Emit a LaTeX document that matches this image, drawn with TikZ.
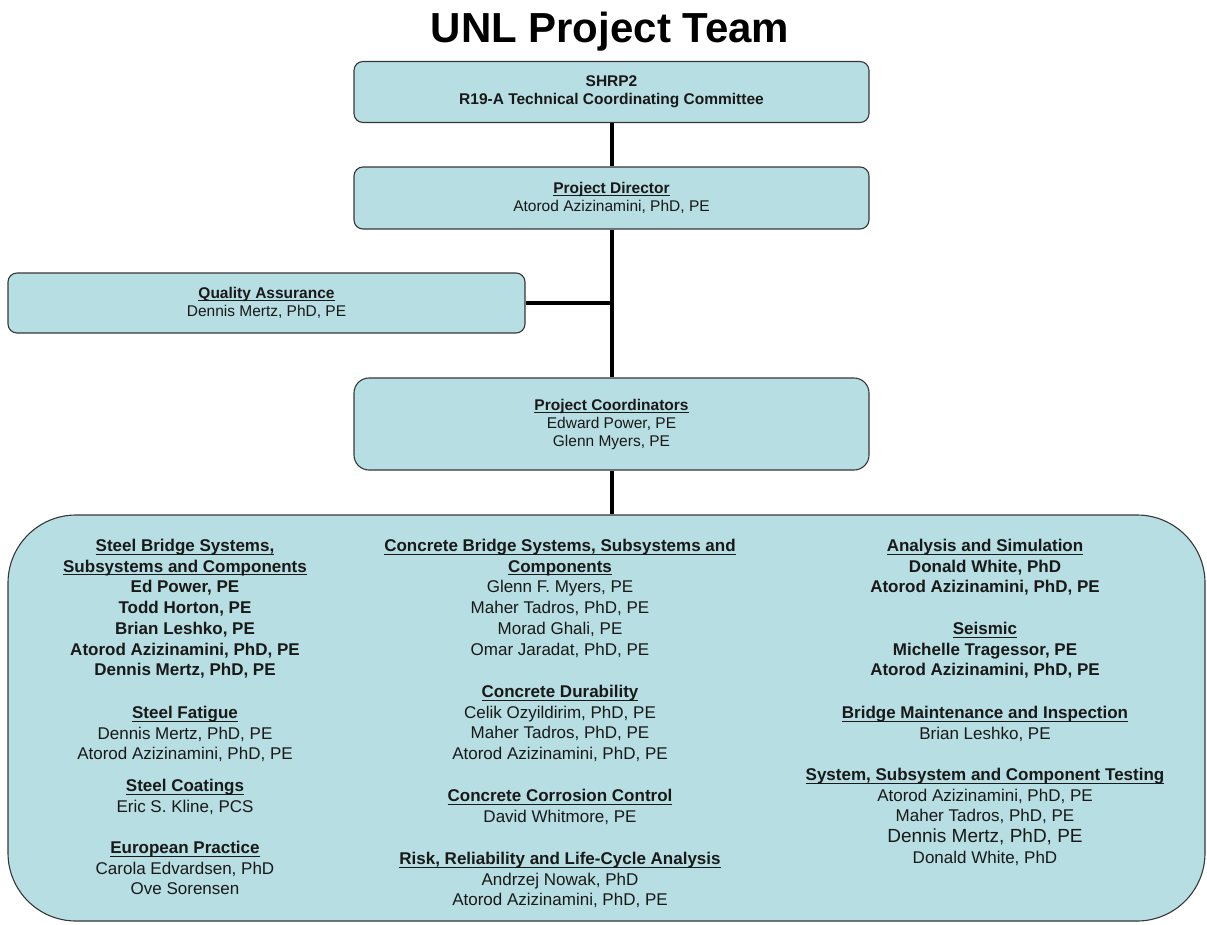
\documentclass[tikz,border=0pt]{standalone}
\usepackage{amsmath}
\usepackage{fontspec}
\setmainfont{Liberation Sans}
\usepackage{xcolor}

\definecolor{boxfill}{RGB}{183,222,226}
\definecolor{boxline}{RGB}{55,55,55}
\newcommand{\heading}[1]{\textbf{\underline{\smash[b]{#1}}}}

\begin{document}
\begin{tikzpicture}[x=1pt,y=1pt,yscale=-1,xscale=1,
  box/.style={draw=boxline,fill=boxfill,line width=1.1pt,rounded corners=9pt,align=center,text=black!90,font=\fontsize{15.5}{18}\selectfont},
  link/.style={line width=4pt,black},
  group/.style={anchor=north,inner sep=0pt,align=center,text=black!90,font=\fontsize{17}{20.7}\selectfont}]
\useasboundingbox (0,0) rectangle (1207,924);

% Title
\node [anchor=base,inner sep=0pt,font=\fontsize{42}{48}\selectfont\bfseries] (title) at (610,42) {UNL Project Team};

%Shape: Boxes
\node [box,minimum width=515pt,minimum height=61pt] (shrp) at (611.5,92) {\textbf{SHRP2}\\\textbf{R19-A Technical Coordinating Committee}};
\node [box,minimum width=515pt,minimum height=62pt] (director) at (611.5,198) {\heading{Project Director}\\Atorod Azizinamini, PhD, PE};
\node [box,minimum width=517pt,minimum height=60pt] (qa) at (266.5,303) {\heading{Quality Assurance}\\Dennis Mertz, PhD, PE};
\node [box,rounded corners=15pt,minimum width=515pt,minimum height=92pt] (coord) at (611.5,424) {\heading{Project Coordinators}\\Edward Power, PE\\Glenn Myers, PE};
\node [box,rounded corners=68pt,minimum width=1197pt,minimum height=406pt] (teams) at (606.5,718) {};

%Straight Lines
\coordinate (qajoin) at (qa.east -| director.south);
\coordinate (teamsjoin) at (coord.south |- teams.north);
\draw [link] (shrp.south) -- (director.north);
\draw [link] (director.south) -- (coord.north);
\draw [link] (qa.east) -- (qajoin);
\draw [link] (coord.south) -- (teamsjoin);

% Text Node: steel column
\node [group] (steelsys) at (185,539) {\heading{Steel Bridge Systems,}\\\heading{Subsystems and Components}\\\textbf{Ed Power, PE}\\\textbf{Todd Horton, PE}\\\textbf{Brian Leshko, PE}\\\textbf{Atorod Azizinamini, PhD, PE}\\\textbf{Dennis Mertz, PhD, PE}};
\node [group] (fatigue) at (185,706) {\heading{Steel Fatigue}\\Dennis Mertz, PhD, PE\\Atorod Azizinamini, PhD, PE};
\node [group] (coatings) at (185,779) {\heading{Steel Coatings}\\Eric S. Kline, PCS};
\node [group] (european) at (185,841) {\heading{European Practice}\\Carola Edvardsen, PhD\\Ove Sorensen};

% Text Node: concrete column
\node [group] (concsys) at (560,539) {\heading{Concrete Bridge Systems, Subsystems and}\\\heading{Components}\\Glenn F. Myers, PE\\Maher Tadros, PhD, PE\\Morad Ghali, PE\\Omar Jaradat, PhD, PE};
\node [group] (durability) at (560,685) {\heading{Concrete Durability}\\Celik Ozyildirim, PhD, PE\\Maher Tadros, PhD, PE\\Atorod Azizinamini, PhD, PE};
\node [group] (corrosion) at (560,789) {\heading{Concrete Corrosion Control}\\David Whitmore, PE};
\node [group] (risk) at (560,852) {\heading{Risk, Reliability and Life-Cycle Analysis}\\Andrzej Nowak, PhD\\Atorod Azizinamini, PhD, PE};

% Text Node: analysis column
\node [group] (analysis) at (985,539) {\heading{Analysis and Simulation}\\\textbf{Donald White, PhD}\\\textbf{Atorod Azizinamini, PhD, PE}};
\node [group] (seismic) at (985,622) {\heading{Seismic}\\\textbf{Michelle Tragessor, PE}\\\textbf{Atorod Azizinamini, PhD, PE}};
\node [group] (maintenance) at (985,706) {\heading{Bridge Maintenance and Inspection}\\Brian Leshko, PE};
\node [group] (testing) at (985,768) {\heading{System, Subsystem and Component Testing}\\Atorod Azizinamini, PhD, PE\\Maher Tadros, PhD, PE\\{\fontsize{19}{20.7}\selectfont Dennis Mertz, PhD, PE}\\Donald White, PhD};

\end{tikzpicture}
\end{document}
